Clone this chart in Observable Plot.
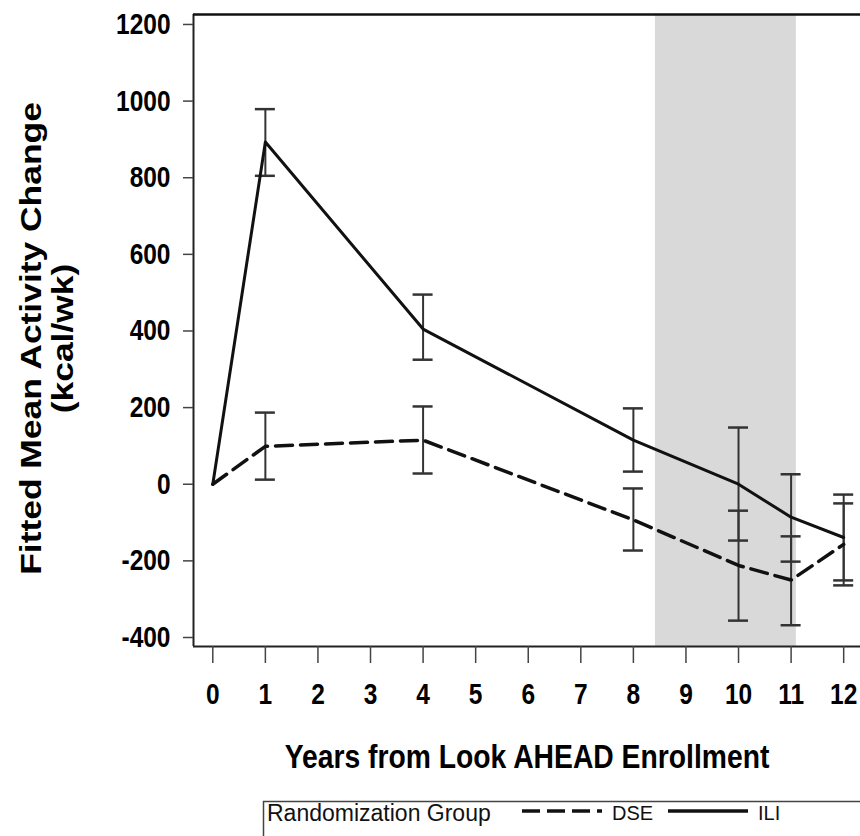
<!DOCTYPE html>
<html>
<head>
<meta charset="utf-8">
<script src="https://cdn.jsdelivr.net/npm/d3@7"></script>
<script src="https://cdn.jsdelivr.net/npm/@observablehq/plot@0.6"></script>
<style>
  body { margin: 0; background: #fff; }
  #chart svg { display: block; }
</style>
</head>
<body>
<div id="chart"></div>
<script>
// Fitted mean change in physical activity (kcal/wk) by randomization group
const years    = [0, 1, 4, 8, 10, 11, 12];
const iliMean  = [0, 893, 405, 115, 0, -86, -139];
const iliLower = [null, 805, 325, 33, -147, -202, -251];
const iliUpper = [null, 979, 495, 198, 148, 26, -27];
const dseMean  = [0, 99, 115, -93, -212, -250, -157];
const dseLower = [null, 12, 28, -173, -356, -368, -264];
const dseUpper = [null, 187, 203, -11, -69, -136, -50];

const groups = ["DSE", "ILI"];
const xTicks = [0, 1, 2, 3, 4, 5, 6, 7, 8, 9, 10, 11, 12];
const yTicks = [-400, -200, 0, 200, 400, 600, 800, 1000, 1200];
const shadedYears = [8.42, 11.1];
const xDomain = [-0.367, 12.32];
const yDomain = [-423.5, 1226];

const xTitle = "Years from Look AHEAD Enrollment";
const yTitle = "Fitted Mean Activity Change\n(kcal/wk)";
const legendTitle = "Randomization Group";

const rows = (group, mean, lo, hi) =>
  years.map((year, i) => ({group, year, mean: mean[i], lo: lo[i], hi: hi[i]}));
const ili = rows("ILI", iliMean, iliLower, iliUpper);
const dse = rows("DSE", dseMean, dseLower, dseUpper);
const bars = [...ili, ...dse].filter(d => d.lo != null);

const sans = "'Liberation Sans', Arial, Helvetica, sans-serif";
const ink = "#222";

const chart = Plot.plot({
  width: 860,
  height: 790,
  marginTop: 14,
  marginLeft: 193,
  marginRight: 0,
  marginBottom: 144,
  style: {fontFamily: sans, color: "#000", background: "#fff"},
  x: {domain: xDomain},
  y: {domain: yDomain},
  marks: [
    // follow-up window
    Plot.rect([shadedYears], {x1: d => d[0], x2: d => d[1], fill: "#d9d9d9"}),
    // confidence intervals
    Plot.ruleX(bars, {x: "year", y1: "lo", y2: "hi", stroke: "#333", strokeWidth: 2}),
    Plot.ruleY(bars, {y: "lo", x1: "year", x2: "year", insetLeft: -10, insetRight: -10, stroke: "#333", strokeWidth: 2.5}),
    Plot.ruleY(bars, {y: "hi", x1: "year", x2: "year", insetLeft: -10, insetRight: -10, stroke: "#333", strokeWidth: 2.5}),
    // group means
    Plot.line(dse, {x: "year", y: "mean", stroke: "#111", strokeWidth: 3.5, strokeDasharray: "17,8"}),
    Plot.line(ili, {x: "year", y: "mean", stroke: "#111", strokeWidth: 3}),
    // axis lines and top border
    Plot.ruleX([xDomain[0]], {stroke: ink, strokeWidth: 2}),
    Plot.ruleY([yDomain[0]], {stroke: ink, strokeWidth: 2}),
    Plot.ruleY([yDomain[1]], {stroke: "#111", strokeWidth: 2.5}),
    Plot.axisX({ticks: xTicks, tickFormat: d => String(d), tickSize: 17, tickPadding: 20,
                fontSize: 24.5, fontWeight: "bold", stroke: "#444", strokeWidth: 1.5, label: null}),
    Plot.axisY({ticks: yTicks, tickFormat: d => String(d), tickSize: 10, tickPadding: 13,
                fontSize: 24.5, fontWeight: "bold", stroke: "#444", strokeWidth: 1.5, label: null}),
    // axis titles
    Plot.text([xTitle], {text: d => d, frameAnchor: "bottom", lineAnchor: "middle", dy: 111,
                         fontSize: 28.3, fontWeight: "bold"}),
    Plot.text([yTitle], {text: d => d, frameAnchor: "left", textAnchor: "middle", rotate: -90,
                         dx: -147, dy: 8, lineHeight: 1.085, fontSize: 29.5, fontWeight: "bold"})
  ]
});

// the typeface is drawn tall and condensed: stretch each text along the vertical
function stretch(node, sx, sy) {
  const t = node.getAttribute("transform") || "";
  const px = a => {
    const v = node.getAttribute(a);
    if (v == null || /em$/.test(v)) return 0;
    node.removeAttribute(a);
    return +v || 0;
  };
  const tx = px("x"), ty = px("y");
  node.setAttribute("transform", `${t} translate(${tx},${ty}) scale(${sx},${sy})`);
}
d3.select(chart).selectAll("text").each(function() {
  const group = this.parentNode.getAttribute("aria-label") || "";
  const s = this.textContent;
  if (group.includes("tick label") || s === xTitle) stretch(this, 1, 1.2);
  else if (s.startsWith("Fitted")) stretch(this, 1.2, 1);
});
document.getElementById("chart").append(chart);

// legend strip under the plot
const legend = d3.create("svg")
  .attr("width", 860)
  .attr("height", 46)
  .style("display", "block")
  .style("font-family", sans);
legend.append("rect")
  .attr("x", 263.5).attr("y", 11.5).attr("width", 640).attr("height", 60)
  .attr("fill", "none").attr("stroke", "#444").attr("stroke-width", 1.5);
legend.append("text")
  .attr("x", 267).attr("y", 22.5).attr("dy", "0.35em")
  .attr("font-size", 23).attr("fill", "#111")
  .text(legendTitle);
const entries = [
  {name: groups[0], x: 522, dash: "18,7"},
  {name: groups[1], x: 668, dash: null}
];
for (const e of entries) {
  legend.append("line")
    .attr("x1", e.x).attr("x2", e.x + 80).attr("y1", 21).attr("y2", 21)
    .attr("stroke", "#111").attr("stroke-width", 3.5)
    .attr("stroke-dasharray", e.dash);
  legend.append("text")
    .attr("x", e.x + 90).attr("y", 22.5).attr("dy", "0.35em")
    .attr("font-size", 20).attr("fill", "#111")
    .text(e.name);
}
document.getElementById("chart").append(legend.node());
</script>
</body>
</html>
